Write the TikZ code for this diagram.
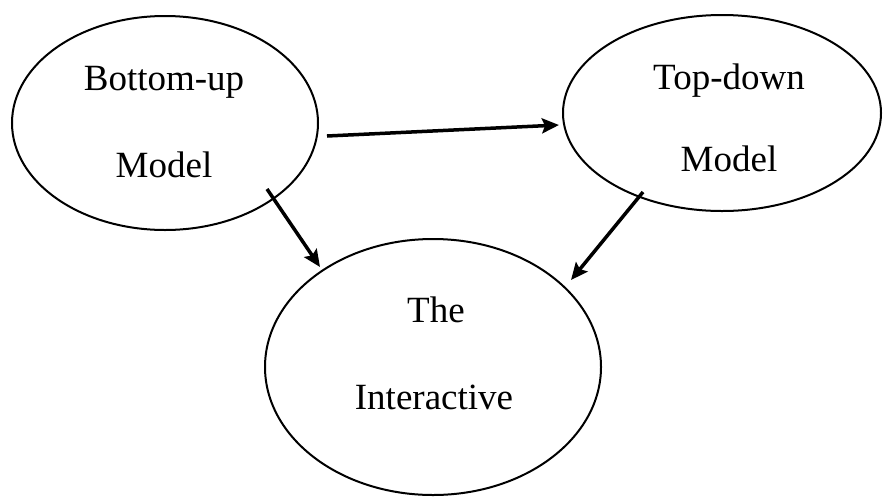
\documentclass[tikz,border=0pt]{standalone}
\usepackage{fontspec}
\setmainfont{Liberation Serif}
\usetikzlibrary{shapes.geometric,arrows.meta}
\begin{document}
\begin{tikzpicture}[x=1pt,y=-1pt,
  oval/.style={draw=black,line width=2pt,ellipse,inner sep=0pt},
  lbl/.style={font=\fontsize{37}{40}\selectfont,inner sep=0pt,anchor=base},
  arr/.style={line width=3.5pt,-{Stealth[length=17pt,width=15pt,inset=3pt]}}]
\useasboundingbox (0,0) rectangle (883,496);
\node[oval,minimum width=306pt,minimum height=214pt] (bu) at (165,123) {};
\node[oval,minimum width=318pt,minimum height=196pt] (td) at (722,113) {};
\node[oval,minimum width=336pt,minimum height=256pt] (ia) at (433,367) {};
\node[lbl] (bu1) at (164,90) {Bottom-up};
\node[lbl] (bu2) at (164,177) {Model};
\node[lbl] (td1) at (729,89) {Top-down};
\node[lbl] (td2) at (729,171) {Model};
\node[lbl] (ia1) at (436,322) {The};
\node[lbl] (ia2) at (434,409) {Interactive};
\coordinate (a1s) at (327,136);
\coordinate (a1e) at (559,125);
\coordinate (a2s) at (267,189);
\coordinate (a2e) at (320,267);
\coordinate (a3s) at (643,192);
\coordinate (a3e) at (571,280);
\draw[arr] (a1s) -- (a1e);
\draw[arr] (a2s) -- (a2e);
\draw[arr] (a3s) -- (a3e);
\end{tikzpicture}
\end{document}
